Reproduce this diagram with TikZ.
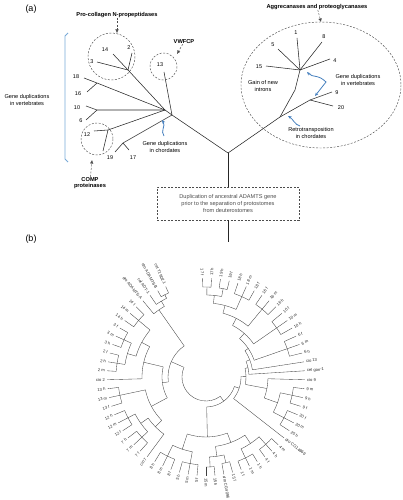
\documentclass[tikz,border=0pt]{standalone}
\usepackage{fontspec}
\setmainfont{Liberation Sans}
\usetikzlibrary{arrows.meta}
\definecolor{dupblue}{RGB}{70,128,190}
\definecolor{brblue}{RGB}{120,170,215}
\newcommand{\pa}[1]{-92+5.2*(#1-1)}
\newcommand{\carc}[3]{\draw[bline] ({\pa{#1}}:#3) arc[start angle={\pa{#1}}, end angle={\pa{#2}}, radius=#3];}
\newcommand{\stem}[3]{\draw[bline] ({\pa{#1}}:#2) -- ({\pa{#1}}:#3);}
\newcommand{\join}[5]{\carc{#1}{#3}{#5}\stem{#1}{#5}{#2}\stem{#3}{#5}{#4}}
\newcommand{\trio}[2]{\carc{#1-1}{#1+1}{#2}\stem{#1-1}{#2}{99}\stem{#1}{#2}{99}\stem{#1+1}{#2}{99}}

\begin{document}
\begin{tikzpicture}[x=1pt,y=-1pt,
  tline/.style={line width=0.55pt, black!85},
  bline/.style={line width=0.35pt, black!75},
  dline/.style={dash pattern=on 2pt off 1.5pt, line width=0.45pt, black!70},
  darr/.style={dline, -{Latex[length=3.5pt,width=3.5pt]}},
  barr/.style={line width=0.8pt, dupblue, -{Stealth[length=3.5pt,width=3pt]}},
  num/.style={font=\fontsize{5.5}{6}\selectfont, inner sep=0pt},
  note/.style={font=\fontsize{5.6}{6.6}\selectfont, align=center, inner sep=0pt},
  head/.style={font=\fontsize{5.7}{6.7}\selectfont\bfseries, align=center, inner sep=0pt},
  blab/.style={font=\fontsize{4.1}{4.5}\selectfont, inner sep=0.1pt, black!85},
]
\useasboundingbox (0,0) rectangle (402,500);

\node[font=\fontsize{9}{10}\selectfont] (pa) at (31,9) {(a)};
\node[font=\fontsize{9}{10}\selectfont] (pb) at (31,239) {(b)};

\coordinate (root) at (228,153);
\coordinate (n0) at (172,115);
\coordinate (n1) at (165,110);
\coordinate (np) at (128,70);
\coordinate (t14) at (113,54);
\coordinate (t2) at (132,53);
\coordinate (t3) at (97,62);
\coordinate (t13) at (164,72);
\coordinate (t18) at (84,78);
\coordinate (n16) at (97,83);
\coordinate (t16) at (87,92);
\coordinate (n6) at (97,110);
\coordinate (t10) at (86,106);
\coordinate (t6) at (86,120);
\coordinate (n12) at (108,130);
\coordinate (t12) at (94,131);
\coordinate (t7) at (103,151);
\coordinate (n17) at (123,143);
\coordinate (t19) at (115,152);
\coordinate (t17) at (129,150);

\coordinate (m1) at (280,117);
\coordinate (m2) at (295,90);
\coordinate (mc) at (300,70);
\coordinate (s1) at (297,38);
\coordinate (s8) at (322,42);
\coordinate (s5) at (278,49);
\coordinate (s4) at (330,59);
\coordinate (s15) at (266,66);
\coordinate (m9) at (310,100);
\coordinate (s9) at (332,92);
\coordinate (s20) at (333,106);

\draw[tline] (root) -- (n0) -- (n1) -- (np) -- (t14);
\draw[tline] (np) -- (t2);
\draw[tline] (np) -- (t3);
\draw[tline] (n0) -- (t13);
\draw[tline] (n1) -- (n16) -- (t18);
\draw[tline] (n16) -- (t16);
\draw[tline] (n1) -- (n6) -- (t10);
\draw[tline] (n6) -- (t6);
\draw[tline] (n1) -- (n12) -- (t12);
\draw[tline] (n12) -- (t7);
\draw[tline] (n0) -- (n17) -- (t19);
\draw[tline] (n17) -- (t17);
\draw[tline] (root) -- (m1) -- (m2) -- (mc) -- (s1);
\draw[tline] (mc) -- (s8);
\draw[tline] (mc) -- (s5);
\draw[tline] (mc) -- (s4);
\draw[tline] (mc) -- (s15);
\draw[tline] (m1) -- (m9) -- (s9);
\draw[tline] (m9) -- (s20);

\node[num] (l14) at (105,50) {14};
\node[num] (l2) at (129,48) {2};
\node[num] (l3) at (92,62) {3};
\node[num] (l13) at (160,65) {13};
\node[num] (l18) at (76,77) {18};
\node[num] (l16) at (78,94) {16};
\node[num] (l10) at (77,108) {10};
\node[num] (l6) at (81,121) {6};
\node[num] (l12) at (87,135) {12};
\node[num] (l19) at (110,158) {19};
\node[num] (l17) at (133,158) {17};
\node[num] (l1) at (296,33) {1};
\node[num] (l8) at (324,37) {8};
\node[num] (l5) at (273,45) {5};
\node[num] (l4) at (335,61) {4};
\node[num] (l15) at (259,67) {15};
\node[num] (l9) at (337,93) {9};
\node[num] (l20) at (341,108) {20};

\draw[dline] (111.5,56.5) circle (23.5);
\draw[dline] (163.5,66.5) circle (13.5);
\draw[dline] (97,139) circle (16);
\draw[dline] (321,85) ellipse [x radius=80, y radius=63];

\node[head] (pcnp) at (117,15) {Pro-collagen N-propeptidases};
\coordinate (pcnpt) at (117,33);
\draw[darr] (pcnp) -- (pcnpt);
\node[head] (vwf) at (184,42) {VWFCP};
\coordinate (vwft) at (177,54);
\draw[darr] (vwf) -- (vwft);
\node[head] (comp) at (90,183) {COMP\\proteinases};
\coordinate (compt) at (92,160);
\draw[darr] (comp) -- (compt);
\node[head] (agg) at (317,7) {Aggrecanases and proteoglycanases};
\coordinate (aggt) at (321,22);
\draw[darr] (agg) -- (aggt);

\node[note] (gdv) at (27,100) {Gene duplications\\in vertebrates};
\draw[brblue, line width=0.8pt] (68,33) -- (65,36) -- (65,159) -- (68,162);

\node[note] (gdc) at (165,147) {Gene duplications\\in chordates};
\coordinate (gdca) at (164,136);
\coordinate (gdcb) at (162,120);
\draw[barr] (gdca) .. controls (160,131) and (166,126) .. (gdcb);

\node[note] (gain) at (263,86) {Gain of new\\introns};
\node[note] (gdvr) at (358,80) {Gene duplications\\in vertebrates};
\coordinate (gva) at (307,72);
\coordinate (gvb) at (326,82);
\coordinate (gvc) at (315,96);
\draw[barr, {Stealth[length=3.5pt,width=3pt]}-{Stealth[length=3.5pt,width=3pt]}] (gva) .. controls (313,78) and (318,74) .. (gvb) -- (gvc);

\node[note] (retro) at (311,133) {Retrotransposition\\in chordates};
\coordinate (rta) at (300,126);
\coordinate (rtb) at (288,116);
\draw[barr] (rta) .. controls (295,125) and (293,119) .. (rtb);

\node[note, draw, dline, minimum width=142pt, minimum height=33pt] (dup) at (228,203.5)
  {Duplication of ancestral ADAMTS gene\\prior to the separation of protostomes\\from deuterostomes};
\coordinate (down) at (228,242);
\draw[tline] (root) -- (dup.north);
\draw[tline] (dup.south) -- (down);

\begin{scope}[shift={(206,377)}]
\join{1}{99}{2}{99}{90}
\join{3}{99}{4}{99}{90}
\join{1.5}{90}{3.5}{90}{82}
\trio{6}{88}
\join{2.5}{82}{6}{88}{74}
\trio{9}{88}
\join{4.25}{74}{9}{88}{66}
\trio{12}{86}
\join{6.625}{66}{12}{86}{58}
\trio{15}{86}
\join{9.3125}{58}{15}{86}{51}
\join{12.156}{51}{17}{99}{47}
\join{14.578}{47}{18}{99}{43}
\trio{21}{88}
\trio{24}{88}
\join{21}{88}{24}{88}{76}
\join{19}{99}{22.5}{76}{62}
\join{16.289}{43}{20.75}{62}{40}
\join{18.52}{40}{26}{99}{35}
\trio{28}{90}
\trio{31}{90}
\join{28}{90}{31}{90}{80}
\join{33}{99}{34}{99}{88}
\join{35}{99}{36}{99}{90}
\join{33.5}{88}{35.5}{90}{80}
\join{29.5}{80}{34.5}{80}{70}
\trio{38}{88}
\trio{41}{88}
\join{38}{88}{41}{88}{76}
\join{32}{70}{39.5}{76}{60}
\join{22.26}{35}{35.75}{60}{30}
\trio{45}{88}
\trio{48}{88}
\join{45}{88}{48}{88}{80}
\join{43}{99}{46.5}{80}{71}
\trio{51}{88}
\join{44.75}{71}{51}{88}{62}
\trio{55}{90}
\trio{58}{90}
\join{55}{90}{58}{90}{82}
\trio{61}{88}
\join{56.5}{82}{61}{88}{73}
\join{53}{99}{58.75}{73}{64}
\join{47.875}{62}{55.875}{64}{44}
\join{65}{99}{66}{99}{92}
\join{64}{99}{65.5}{92}{88}
\join{63}{99}{64.75}{88}{82}
\join{51.875}{44}{63.875}{82}{38}
\join{29.005}{30}{57.875}{38}{24}

\foreach \i/\t in {1/17 f,2/17 h,3/19 h,4/19 f,5/18 h,6/18 m,7/18 f,8/16 f,9/16 m,10/16 h,
  11/10 f,12/10 m,13/10 h,14/6 f,15/6 m,16/6 h,17/cio 13,18/cel gon-1,19/cio 9,20/9 m,
  21/9 h,22/9 f,23/20 f,24/20 m,25/20 h,26/dro CG14869,27/4 m,28/4 h,29/4 f,30/1 h,
  31/1 m,32/1 f,33/15 f,34/dro CG4096,35/15 h,36/15 m,37/5 f,38/5 m,39/5 h,40/8 f,
  41/8 m,42/8 h,43/cio 7,44/7 f,45/7 m,46/7 h,47/12 f,48/12 m,49/12 h,50/13 f,
  51/13 m,52/13 h,53/cio 2,54/2 m,55/2 h,56/2 f,57/3 h,58/3 m,59/3 f,60/14 h,
  61/14 m,62/14 f,63/dro ADAMTS-A,64/cel ADT-1,65/dro ADAMTS-B,66/cel T19D2.1} {
  \pgfmathsetmacro\a{-92+5.2*(\i-1)}
  \ifdim\a pt<-90pt
    \node[blab, anchor=east, rotate={180-(\a)}] (b\i) at (\a:101) {\t};
  \else\ifdim\a pt>90pt
    \node[blab, anchor=east, rotate={180-(\a)}] (b\i) at (\a:101) {\t};
  \else
    \node[blab, anchor=west, rotate={-(\a)}] (b\i) at (\a:101) {\t};
  \fi\fi
}
\end{scope}
\end{tikzpicture}
\end{document}
